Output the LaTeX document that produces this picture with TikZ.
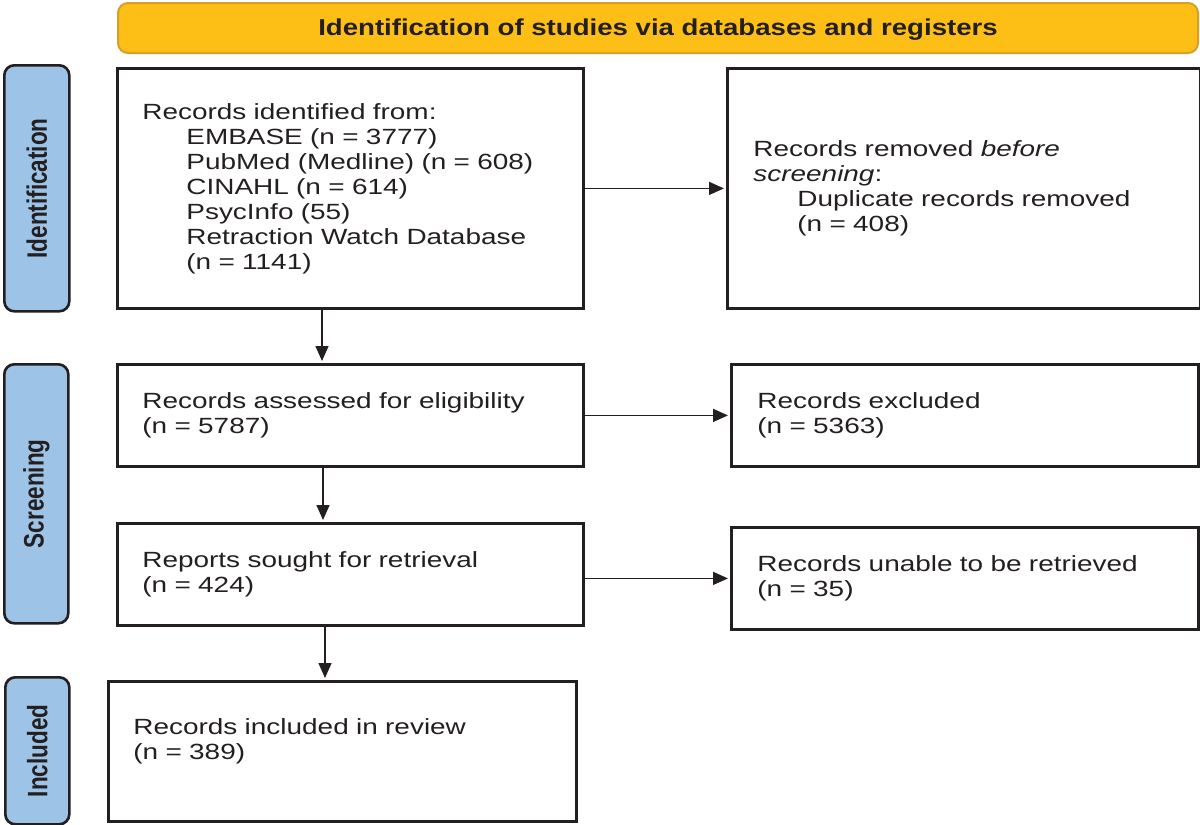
\documentclass[tikz,border=0pt]{standalone}
\usepackage{fontspec}
\setmainfont{Liberation Sans}[FakeStretch=1.27]
\newfontfamily\titlefont{Liberation Sans}[FakeStretch=1.2]
\newfontfamily\labelfont{Liberation Sans}
\usetikzlibrary{arrows.meta,calc}
\definecolor{gold}{RGB}{253,190,22}
\definecolor{goldedge}{RGB}{214,160,40}
\definecolor{sideblue}{RGB}{157,195,230}
\definecolor{ink}{RGB}{35,31,32}
\begin{document}
\begin{tikzpicture}[x=1pt,y=-1pt,
  every node/.style={font=\fontsize{22}{25}\selectfont, text=ink},
  flowbox/.style={draw=ink, line width=2.8pt, align=left, inner xsep=25pt, inner ysep=0pt, anchor=north west},
  banner/.style={draw=goldedge, fill=gold, line width=2pt, rounded corners=10pt, anchor=north west, inner sep=0pt},
  sidebar/.style={draw=ink, fill=sideblue, line width=2.6pt, rounded corners=10pt, anchor=north west, inner sep=0pt},
  sidelabel/.style={rotate=90, inner sep=0pt, font=\fontsize{22.5}{25}\labelfont\bfseries},
  arr/.style={draw=ink, line width=1.5pt, -{Triangle[length=15pt,width=13pt]}, shorten >=2pt}]
\useasboundingbox (0,0) rectangle (1200,825);

% banner
\node[banner, minimum width=1080pt, minimum height=50pt] (ban) at (117,2) {};
\node[font=\fontsize{23}{25}\titlefont\bfseries] (bantext) at ([yshift=-2pt]ban.center) {Identification of studies via databases and registers};

% side bars
\node[sidebar, minimum width=65pt, minimum height=246pt] (sid) at (3,64) {};
\node[sidelabel] (sidt) at (sid.center) {\scalebox{1}[1.25]{Identification}};
\node[sidebar, minimum width=64pt, minimum height=259pt] (sscr) at (3,363) {};
\node[sidelabel] (sscrt) at (sscr.center) {\scalebox{1}[1.25]{Screening}};
\node[sidebar, minimum width=64pt, minimum height=147pt] (sinc) at (4,676) {};
\node[sidelabel] (sinct) at (sinc.center) {\scalebox{1}[1.25]{Included}};

% boxes
\node[flowbox, text width=416pt, minimum height=240pt] (b1) at (116,67) {Records identified from:\\
\hspace*{44pt}EMBASE (n = 3777)\\
\hspace*{44pt}PubMed (Medline) (n = 608)\\
\hspace*{44pt}CINAHL (n = 614)\\
\hspace*{44pt}PsycInfo (55)\\
\hspace*{44pt}Retraction Watch Database\\
\hspace*{44pt}(n = 1141)};

\node[flowbox, text width=421pt, inner xsep=26pt, minimum height=240pt] (b2) at (726,67) {Records removed \textit{before}\\
\textit{screening}:\\
\hspace*{44pt}Duplicate records removed\\
\hspace*{44pt}(n = 408)};

\node[flowbox, text width=416pt, minimum height=102pt] (b3) at (116,363) {Records assessed for eligibility\\(n = 5787)};
\node[flowbox, text width=415pt, inner xsep=26pt, minimum height=102pt] (b4) at (730,363) {Records excluded\\(n = 5363)};
\node[flowbox, text width=416pt, minimum height=102pt] (b5) at (116,522) {Reports sought for retrieval\\(n = 424)};
\node[flowbox, text width=415pt, inner xsep=26pt, minimum height=102pt] (b6) at (730,526) {Records unable to be retrieved\\(n = 35)};
\node[flowbox, text width=418pt, minimum height=140pt] (b7) at (107,680) {Records included in review\\(n = 389)\\ \mbox{}};

% connectors
\draw[arr] (b1.east) -- (b2.west);
\draw[arr] (b3.east) -- (b4.west);
\draw[arr] (b5.east |- b6.west) -- (b6.west);
\draw[arr] ([xshift=206pt]b1.south west) -- ([xshift=206pt]b1.south west |- b3.north);
\draw[arr] ([xshift=207pt]b3.south west) -- ([xshift=207pt]b3.south west |- b5.north);
\draw[arr] ([xshift=209pt]b5.south west) -- ([xshift=209pt]b5.south west |- b7.north);
\end{tikzpicture}
\end{document}
